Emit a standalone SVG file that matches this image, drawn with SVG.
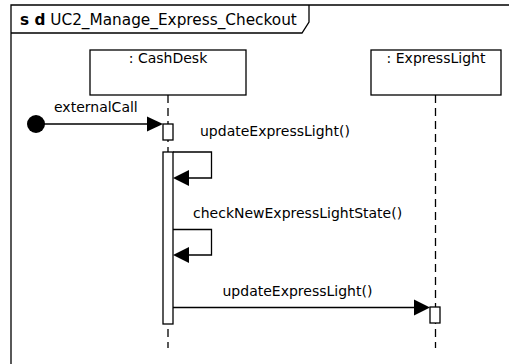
<svg xmlns="http://www.w3.org/2000/svg" width="509" height="364" viewBox="0 0 509 364">
<style>
text{font-family:"DejaVu Sans",Verdana,sans-serif;font-size:14px;fill:#000}
.ln{stroke:#000;stroke-width:1.3;fill:none}
.box{stroke:#000;stroke-width:1.3;fill:#fff}
.life{stroke:#000;stroke-width:1.3;stroke-dasharray:8,5;fill:none}
.head{fill:#000;stroke:none}
</style>
<rect width="509" height="364" fill="#fff"/>
<g id="frame">
<path class="ln" d="M11,370 V5 H515" stroke-width="1.5"/>
<path class="ln" d="M11,33 H302 L309,22 V5"/>
<text x="20" y="25" style="font-size:15.3px"><tspan font-weight="bold">s d</tspan> UC2_Manage_Express_Checkout</text>
</g>
<g id="lifelines">
<line class="life" x1="168" y1="95" x2="168" y2="348"/>
<line class="life" x1="435.5" y1="95" x2="435.5" y2="348"/>
</g>
<g id="cashdesk">
<rect class="box" x="90" y="50" width="156" height="45"/>
<text x="168" y="63" text-anchor="middle">: CashDesk</text>
<rect class="box" x="163" y="124" width="10" height="16"/>
<rect class="box" x="163" y="152" width="10" height="172"/>
</g>
<g id="expresslight">
<rect class="box" x="371" y="50" width="130" height="45"/>
<text x="436" y="63" text-anchor="middle">: ExpressLight</text>
<rect class="box" x="430" y="307" width="10" height="16"/>
</g>
<g id="start">
<circle cx="36" cy="124" r="9" fill="#000"/>
</g>
<g id="connectors">
<line class="ln" x1="36" y1="124" x2="150" y2="124"/>
<polygon class="head" points="147,116.5 163,124 147,131.5"/>
<text x="54" y="111.5">externalCall</text>
<path class="ln" d="M173,152 H211.5 V178 H186"/>
<polygon class="head" points="189,170 173,178 189,186"/>
<text x="200" y="136">updateExpressLight()</text>
<path class="ln" d="M173,229.5 H211.5 V255 H186"/>
<polygon class="head" points="189,247 173,255 189,263"/>
<text x="193" y="218">checkNewExpressLightState()</text>
<line class="ln" x1="173" y1="307.5" x2="417" y2="307.5"/>
<polygon class="head" points="414,299.5 430,307.5 414,315.5"/>
<text x="222.5" y="295.5">updateExpressLight()</text>
</g>
</svg>
